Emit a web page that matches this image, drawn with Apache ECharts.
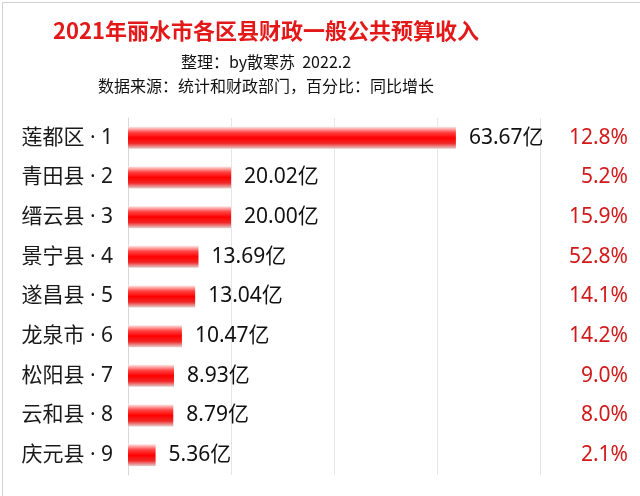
<!DOCTYPE html>
<html>
<head>
<meta charset="utf-8">
<script src="https://cdn.jsdelivr.net/npm/echarts@6/dist/echarts.min.js"></script>
<style>html,body{margin:0;padding:0;background:#fff}#c{width:640px;height:496px}</style>
</head>
<body>
<div id="c"></div>
<script>
var names = ['莲都区','青田县','缙云县','景宁县','遂昌县','龙泉市','松阳县','云和县','庆元县'];
var values = [63.67, 20.02, 20.00, 13.69, 13.04, 10.47, 8.93, 8.79, 5.36];
var growth = ['12.8%','5.2%','15.9%','52.8%','14.1%','14.2%','9.0%','8.0%','2.1%'];
var categories = names.map(function(n, i){ return n + ' · ' + (i + 1); });

var font = '"Noto Sans CJK SC", "Noto Sans", sans-serif';
var latinFont = '"Noto Sans", "Noto Sans CJK SC", sans-serif';
var chart = echarts.init(document.getElementById('c'));
chart.setOption({
  backgroundColor: '#fff',
  animation: false,
  title: [
    {text: '2021年丽水市各区县财政一般公共预算收入', left: 261, top: 15, textAlign: 'center',
     textStyle: {color: '#e31818', fontSize: 22, fontWeight: 'bold', fontFamily: font}},
    {text: '整理：by散寒苏  2022.2', left: 261, top: 49, textAlign: 'center',
     textStyle: {color: '#111', fontSize: 16, fontWeight: 'normal', fontFamily: font}},
    {text: '数据来源：统计和财政部门，百分比：同比增长', left: 261, top: 73, textAlign: 'center',
     textStyle: {color: '#111', fontSize: 16, fontWeight: 'normal', fontFamily: font}}
  ],
  graphic: [{type: 'rect', left: 0, top: 0, shape: {x: 0.5, y: 0.5, width: 639, height: 495},
    style: {fill: 'none', stroke: '#d0d0d0', lineWidth: 1}}],
  grid: {left: 128, right: 100, top: 118, bottom: 21},
  xAxis: {type: 'value', min: 0, max: 80, interval: 20,
    axisLabel: {show: false}, axisLine: {show: false}, axisTick: {show: false},
    splitLine: {show: true, lineStyle: {color: '#e6e6e6'}}},
  yAxis: [
    {type: 'category', data: categories, inverse: true,
     axisLine: {show: true, lineStyle: {color: '#d8d8d8'}}, axisTick: {show: false},
     axisLabel: {color: '#1a1a1a', fontSize: 21, margin: 15, fontFamily: latinFont}},
    {type: 'category', data: growth, inverse: true, position: 'right',
     axisLine: {show: false}, axisTick: {show: false},
     axisLabel: {color: '#d11a1a', fontSize: 21, align: 'right', margin: 88, fontFamily: latinFont}}
  ],
  series: [{
    type: 'bar', data: values, barWidth: 22, yAxisIndex: 0,
    itemStyle: {color: new echarts.graphic.LinearGradient(0, 0, 0, 1, [
      {offset: 0, color: '#fde8e8'},
      {offset: 0.25, color: '#ff4545'},
      {offset: 0.5, color: '#ff0000'},
      {offset: 0.75, color: '#f02828'},
      {offset: 1, color: '#e6d0d0'}
    ])},
    label: {show: true, position: 'right', distance: 13, color: '#111', fontSize: 21, fontFamily: latinFont,
      formatter: function(p){ return p.value.toFixed(2) + '亿'; }}
  }]
});
</script>
</body>
</html>
